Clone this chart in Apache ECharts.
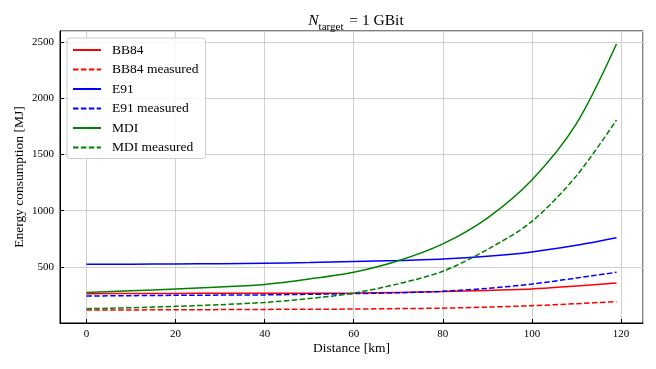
<!DOCTYPE html>
<html>
<head>
<meta charset="utf-8">
<title>Energy consumption</title>
<script src="https://cdn.jsdelivr.net/npm/echarts@6/dist/echarts.min.js"></script>
<style>
	html, body { margin: 0; padding: 0; background: #fff; }
	#chart { width: 656px; height: 369px; }
</style>
</head>
<body>
<div id="chart"></div>
<script>
// distance [km]
var distance = [0, 10, 20, 30, 40, 50, 60, 70, 80, 90, 100, 110, 119];

// energy consumption [MJ]
var bb84 =         [263, 264, 265, 266, 267, 267, 268, 273, 281, 292, 304, 331, 357];
var bb84Measured = [117, 118, 120, 121, 123, 124, 126, 130, 134, 143, 156, 174, 192];
var e91 =          [524, 525, 527, 529, 533, 539, 548, 557, 570, 595, 634, 693, 760];
var e91Measured =  [242, 245, 248, 250, 252, 257, 263, 271, 284, 310, 348, 402, 453];
var mdi =          [274, 288, 304, 322, 345, 393, 453, 555, 705, 935, 1273, 1774, 2482];
var mdiMeasured =  [129, 138, 150, 165, 185, 219, 268, 350, 462, 655, 905, 1310, 1807];

var legendNames = ['BB84', 'BB84 measured', 'E91', 'E91 measured', 'MDI', 'MDI measured'];

var serif = 'Liberation Serif';

function pairs(ys){
	var out = [];
	for (var i = 0; i < distance.length; i++) {
		out.push([distance[i], ys[i]]);
	}
	return out;
}

function makeSeries(name, ys, color, dashed){
	return {
		name: name,
		type: 'line',
		data: pairs(ys),
		symbol: 'none',
		showSymbol: false,
		smooth: 0.3,
		lineStyle: {
			color: color,
			width: 1.5,
			type: dashed ? [5.5, 2.4] : 'solid'
		},
		itemStyle: { color: color }
	};
}

var option = {
	animation: false,
	backgroundColor: '#fff',
	title: {
		left: 351,
		textAlign: 'center',
		top: 8,
		text: '{n|N}{sub|target}{t| = 1 GBit}',
		textStyle: {
			fontWeight: 'normal',
			rich: {
				n: { fontFamily: serif, fontStyle: 'italic', fontWeight: 'normal', fontSize: 15.5, color: '#000', lineHeight: 17, verticalAlign: 'top' },
				sub: { fontFamily: serif, fontWeight: 'normal', fontSize: 11, color: '#000', lineHeight: 11, padding: [9, 2, 0, 0], verticalAlign: 'top' },
				t: { fontFamily: serif, fontWeight: 'normal', fontSize: 15.5, color: '#000', lineHeight: 17, verticalAlign: 'top' }
			}
		}
	},
	legend: {
		orient: 'vertical',
		left: 67,
		top: 38,
		padding: [5, 7, 4, 5],
		itemWidth: 28,
		itemHeight: 14,
		itemGap: 5.5,
		itemStyle: { opacity: 0 },
		borderColor: '#cccccc',
		borderWidth: 1,
		borderRadius: 3,
		backgroundColor: 'rgba(255,255,255,0.85)',
		textStyle: { fontFamily: serif, fontSize: 13.5, color: '#000', padding: [0, 0, 0, 6] },
		data: legendNames
	},
	grid: {
		left: 60,
		right: 13,
		top: 31,
		bottom: 46,
		show: true,
		borderColor: '#000',
		borderWidth: 1
	},
	xAxis: {
		type: 'value',
		min: -5.95,
		max: 124.95,
		splitNumber: 6,
		name: 'Distance [km]',
		nameLocation: 'middle',
		nameGap: 18,
		nameMoveOverlap: false,
		nameTextStyle: { fontFamily: serif, fontSize: 13.5, color: '#000' },
		axisLine: { show: true, onZero: false, lineStyle: { color: '#000', width: 1 } },
		axisTick: { show: true, inside: true, length: 4, lineStyle: { color: '#000' } },
		axisLabel: { fontFamily: serif, fontSize: 11, color: '#000', margin: 6, showMinLabel: false, showMaxLabel: false },
		splitLine: { show: true, lineStyle: { color: '#cfcfcf', width: 1 } }
	},
	yAxis: {
		type: 'value',
		min: 2,
		max: 2598,
		splitNumber: 5,
		name: 'Energy consumption [MJ]',
		nameLocation: 'middle',
		nameGap: 34,
		nameMoveOverlap: false,
		nameTextStyle: { fontFamily: serif, fontSize: 13.5, color: '#000' },
		axisLine: { show: true, onZero: false, lineStyle: { color: '#000', width: 1 } },
		axisTick: { show: true, inside: true, length: 4, lineStyle: { color: '#000' } },
		axisLabel: {
			fontFamily: serif, fontSize: 11, color: '#000', margin: 6,
			showMinLabel: false, showMaxLabel: false,
			formatter: function(v){ return String(v); }
		},
		splitLine: { show: true, lineStyle: { color: '#cfcfcf', width: 1 } }
	},
	series: [
		makeSeries('BB84', bb84, '#ff0000', false),
		makeSeries('BB84 measured', bb84Measured, '#ff0000', true),
		makeSeries('E91', e91, '#0000ff', false),
		makeSeries('E91 measured', e91Measured, '#0000ff', true),
		makeSeries('MDI', mdi, '#008000', false),
		makeSeries('MDI measured', mdiMeasured, '#008000', true)
	]
};

var chart = echarts.init(document.getElementById('chart'), null, { renderer: 'canvas' });
chart.setOption(option);
</script>
</body>
</html>
